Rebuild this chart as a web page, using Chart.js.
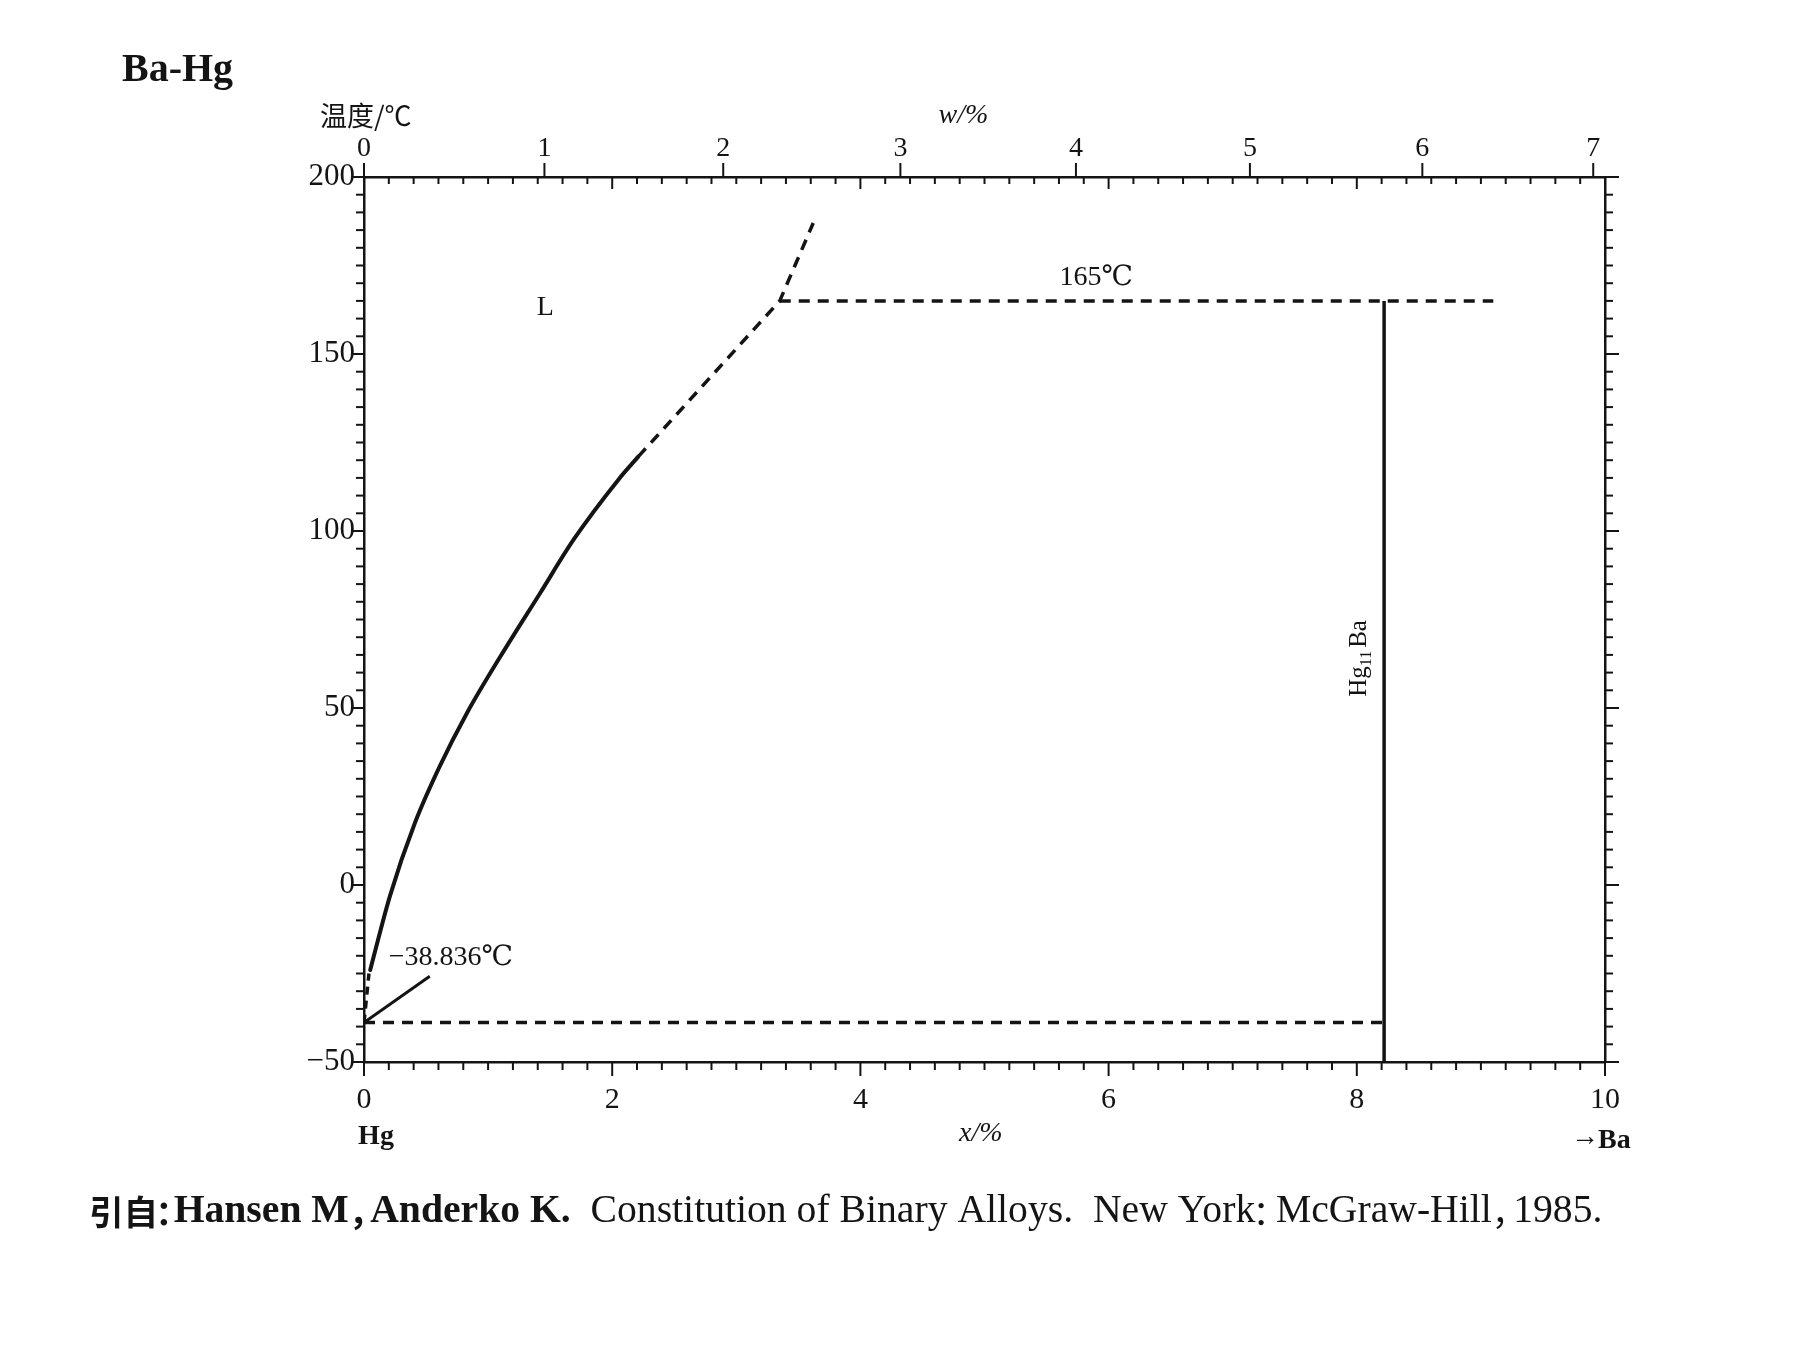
<!DOCTYPE html>
<html><head><meta charset="utf-8">
<script src="https://cdn.jsdelivr.net/npm/chart.js@4/dist/chart.umd.min.js"></script>
<style>html,body{margin:0;padding:0;background:#fff;overflow:hidden}canvas{display:block}</style>
</head><body>
<canvas id="c" width="1795" height="1346"></canvas>
<script>
// ---------- data (x = mole % Ba, y = temperature in °C) ----------
const liquidusX = [0.05, 0.21, 0.41, 0.61, 0.83, 1.10, 1.42, 1.69, 2.05, 2.21];
const liquidusY = [-24, -3, 17.5, 33.5, 48.6, 64.6, 82.5, 97.6, 114.5, 121];
const liquidusDashX = [2.21, 3.35, 3.62];
const liquidusDashY = [121, 165, 187];
const hgEndDashX = [0, 0.04];
const hgEndDashY = [-38.836, -25];
const peritecticX = [3.35, 9.1];
const peritecticY = [165, 165];
const compoundX = [8.22, 8.22];
const compoundY = [165, -50];
const eutecticX = [0, 8.22];
const eutecticY = [-38.836, -38.836];
const leaderX = [0, 0.53];
const leaderY = [-38.836, -25.8];

// ---------- tick labels ----------
const xTickValues = [0, 2, 4, 6, 8, 10];
const yTickValues = [-50, 0, 50, 100, 150, 200];
const wTickLabels = [0, 1, 2, 3, 4, 5, 6, 7];

// ---------- texts ----------
const titleText = 'Ba-Hg';
const yAxisTitle = '温度/℃';
const topAxisTitle = 'w/%';
const bottomAxisTitle = 'x/%';
const leftElement = 'Hg';
const rightElement = 'Ba';
// [text, weight, family, advance factor (null = natural)]
const citationParts = [
  ['引自', 'bold', 'cjk', null],
  ['：', 'bold', 'cjk', 0.45],
  ['Hansen M', 'bold', 'serif', null],
  ['，', 'bold', 'cjk', 0.62],
  ['Anderko K.  ', 'bold', 'serif', null],
  ['Constitution of Binary Alloys.  New York', 'normal', 'serif', null],
  ['：', 'normal', 'cjk', 0.6],
  ['McGraw-Hill', 'normal', 'serif', null],
  ['，', 'normal', 'cjk', 0.62],
  ['1985.', 'normal', 'serif', null]
];
const plotLabels = [
  {text: 'L', x: 1.46, y: 163, align: 'center'},
  {text: '165℃', x: 5.9, y: 171.5, align: 'center'},
  {text: '−38.836℃', x: 0.2, y: -20.5, align: 'left'}
];
const compoundLabel = {main1: 'Hg', sub: '11', main2: 'Ba', x: 8.02, y: 64};

// atomic masses for the w% <-> x% conversion of the top axis
const massBa = 137.33, massHg = 200.59;
function wToX(w) { const a = w / massBa, b = (100 - w) / massHg; return 100 * a / (a + b); }

const pts = (xs, ys) => xs.map((v, i) => ({x: v, y: ys[i]}));
const INK = '#141414';
const SERIF = '"Liberation Serif", "DejaVu Serif", serif';
const CJK = '"Noto Sans CJK SC", sans-serif';

Chart.defaults.font.family = SERIF;
Chart.defaults.color = INK;

const ds = (xs, ys, width, dash) => ({
  data: pts(xs, ys), showLine: true, pointRadius: 0, borderColor: INK,
  borderWidth: width, borderDash: dash || [], tension: 0, fill: false, borderCapStyle: 'butt'
});

const curve = ds(liquidusX, liquidusY, 4);
curve.cubicInterpolationMode = 'monotone';
curve.borderCapStyle = 'round';

const tickPlugin = {
  id: 'ticksAndText',
  afterDraw(chart) {
    const {ctx, chartArea: a, scales} = chart;
    const x = scales.x, x2 = scales.x2, y = scales.y;
    ctx.save();
    ctx.strokeStyle = INK; ctx.lineWidth = 2; ctx.lineCap = 'butt';
    const line = (x1, y1, x3, y3) => { ctx.beginPath(); ctx.moveTo(x1, y1); ctx.lineTo(x3, y3); ctx.stroke(); };
    // bottom ticks (outward) and top ticks (inward) on the x% grid
    for (let i = 0; i <= 50; i++) {
      const major = i % 10 === 0;
      const px = x.getPixelForValue(i * 0.2);
      line(px, a.bottom, px, a.bottom + (major ? 14 : 8));
      const pt = x2.getPixelForValue(i * 0.2);
      line(pt, a.top, pt, a.top + (major ? 12 : 7));
    }
    // top w% ticks (outward)
    wTickLabels.forEach(w => { const p = x2.getPixelForValue(wToX(w)); line(p, a.top, p, a.top - 14); });
    // left and right ticks
    for (let t = -50; t <= 200; t += 5) {
      const major = t % 50 === 0;
      const py = y.getPixelForValue(t);
      line(a.left - (major ? 11 : 8), py, a.left, py);
      line(a.right, py, a.right + (major ? 14 : 8), py);
    }

    ctx.fillStyle = INK;
    ctx.textBaseline = 'middle';
    // title
    ctx.textAlign = 'left';
    ctx.font = 'bold 40px ' + SERIF;
    ctx.fillText(titleText, 122, 71);
    // y-axis title
    ctx.font = '27px ' + CJK;
    ctx.fillText(yAxisTitle, a.left - 44, a.top - 61);
    // top axis title
    ctx.textAlign = 'center';
    ctx.font = 'italic 28px ' + SERIF;
    ctx.fillText(topAxisTitle, a.left + 0.483 * (a.right - a.left), a.top - 61);
    // bottom axis title
    ctx.fillText(bottomAxisTitle, a.left + 0.497 * (a.right - a.left), a.bottom + 72);
    // element names
    ctx.font = 'bold 28px ' + SERIF;
    ctx.fillText(leftElement, a.left + 12, a.bottom + 75);
    ctx.textAlign = 'left';
    ctx.font = '28px ' + SERIF;
    ctx.fillText('→', a.right - 34, a.bottom + 76);
    ctx.font = 'bold 28px ' + SERIF;
    ctx.fillText(rightElement, a.right - 7, a.bottom + 79);

    // labels inside the plot
    ctx.font = '28px ' + SERIF;
    plotLabels.forEach(l => {
      ctx.textAlign = l.align;
      ctx.fillText(l.text, x.getPixelForValue(l.x), y.getPixelForValue(l.y));
    });
    // compound label, rotated
    ctx.save();
    ctx.translate(x.getPixelForValue(compoundLabel.x), y.getPixelForValue(compoundLabel.y));
    ctx.rotate(-Math.PI / 2);
    ctx.textAlign = 'left';
    const fMain = '25px ' + SERIF, fSub = '16px ' + SERIF;
    ctx.font = fMain; const w1 = ctx.measureText(compoundLabel.main1).width;
    const w3 = ctx.measureText(compoundLabel.main2).width + 3;
    ctx.font = fSub; const w2 = ctx.measureText(compoundLabel.sub).width;
    let cx = -(w1 + w2 + w3) / 2;
    ctx.font = fMain; ctx.fillText(compoundLabel.main1, cx, 0); cx += w1;
    ctx.font = fSub; ctx.fillText(compoundLabel.sub, cx, 8); cx += w2 + 3;
    ctx.font = fMain; ctx.fillText(compoundLabel.main2, cx, 0);
    ctx.restore();

    // citation: measured, then scaled to the reference line length
    const sizeFor = p => p[2] === 'cjk' ? 27 : 31;
    const fontFor = (p, s) => p[1] + ' ' + s + 'px ' + (p[2] === 'cjk' ? CJK : SERIF);
    const advance = (p, s) => { ctx.font = fontFor(p, s); return p[3] ? p[3] * s : ctx.measureText(p[0]).width; };
    let total = 0;
    citationParts.forEach(p => { total += advance(p, sizeFor(p)); });
    const k = 1514 / total;
    let cxp = 89;
    citationParts.forEach(p => {
      const s = sizeFor(p) * k;
      const adv = advance(p, s);
      if (p[3]) {
        ctx.textAlign = 'center';
        ctx.fillText(p[0], cxp + (p[0] === '：' ? 0.42 * s : s * 0.5), 1212);
      } else {
        ctx.textAlign = 'left';
        ctx.fillText(p[0], cxp, 1212);
      }
      cxp += adv;
    });
    ctx.restore();
  }
};

const fixSize = (w, h) => (scale) => { if (w !== null) scale.width = w; if (h !== null) scale.height = h; };

new Chart(document.getElementById('c'), {
  type: 'scatter',
  data: {
    datasets: [
      curve,
      ds(liquidusDashX, liquidusDashY, 3.5, [11, 8]),
      ds(hgEndDashX, hgEndDashY, 3.5, [8, 6]),
      ds(peritecticX, peritecticY, 3.5, [11, 8]),
      ds(compoundX, compoundY, 3.5),
      ds(eutecticX, eutecticY, 3.5, [11, 8]),
      ds(leaderX, leaderY, 3)
    ]
  },
  options: {
    responsive: false,
    animation: false,
    devicePixelRatio: 1,
    layout: {padding: 0},
    plugins: {legend: {display: false}, tooltip: {enabled: false}},
    scales: {
      x: {
        type: 'linear', position: 'bottom', min: 0, max: 10,
        afterBuildTicks: s => { s.ticks = xTickValues.map(v => ({value: v})); },
        afterFit: fixSize(null, 284),
        grid: {display: false, drawTicks: false},
        border: {display: true, color: INK, width: 2.5},
        ticks: {font: {size: 30}, color: INK, padding: 20, autoSkip: false, maxRotation: 0}
      },
      x2: {
        type: 'linear', position: 'top', min: 0, max: 10,
        afterBuildTicks: s => { s.ticks = wTickLabels.map(w => ({value: wToX(w)})); },
        afterFit: fixSize(null, 177),
        grid: {display: false, drawTicks: false},
        border: {display: true, color: INK, width: 2.5},
        ticks: {font: {size: 28}, color: INK, padding: 12, autoSkip: false, maxRotation: 0,
          callback: (v, i) => String(wTickLabels[i])}
      },
      y: {
        type: 'linear', position: 'left', min: -50, max: 200,
        afterBuildTicks: s => { s.ticks = yTickValues.map(v => ({value: v})); },
        afterFit: fixSize(364, null),
        grid: {display: false, drawTicks: false},
        border: {display: true, color: INK, width: 2.5},
        ticks: {font: {size: 31}, color: INK, padding: 9, autoSkip: false,
          callback: v => v < 0 ? '−' + Math.abs(v) : String(v)}
      },
      y2: {
        type: 'linear', position: 'right', min: -50, max: 200,
        afterFit: fixSize(190, null),
        grid: {display: false, drawTicks: false},
        border: {display: true, color: INK, width: 2.5},
        ticks: {display: false}
      }
    }
  },
  plugins: [tickPlugin]
});
</script>
</body></html>
